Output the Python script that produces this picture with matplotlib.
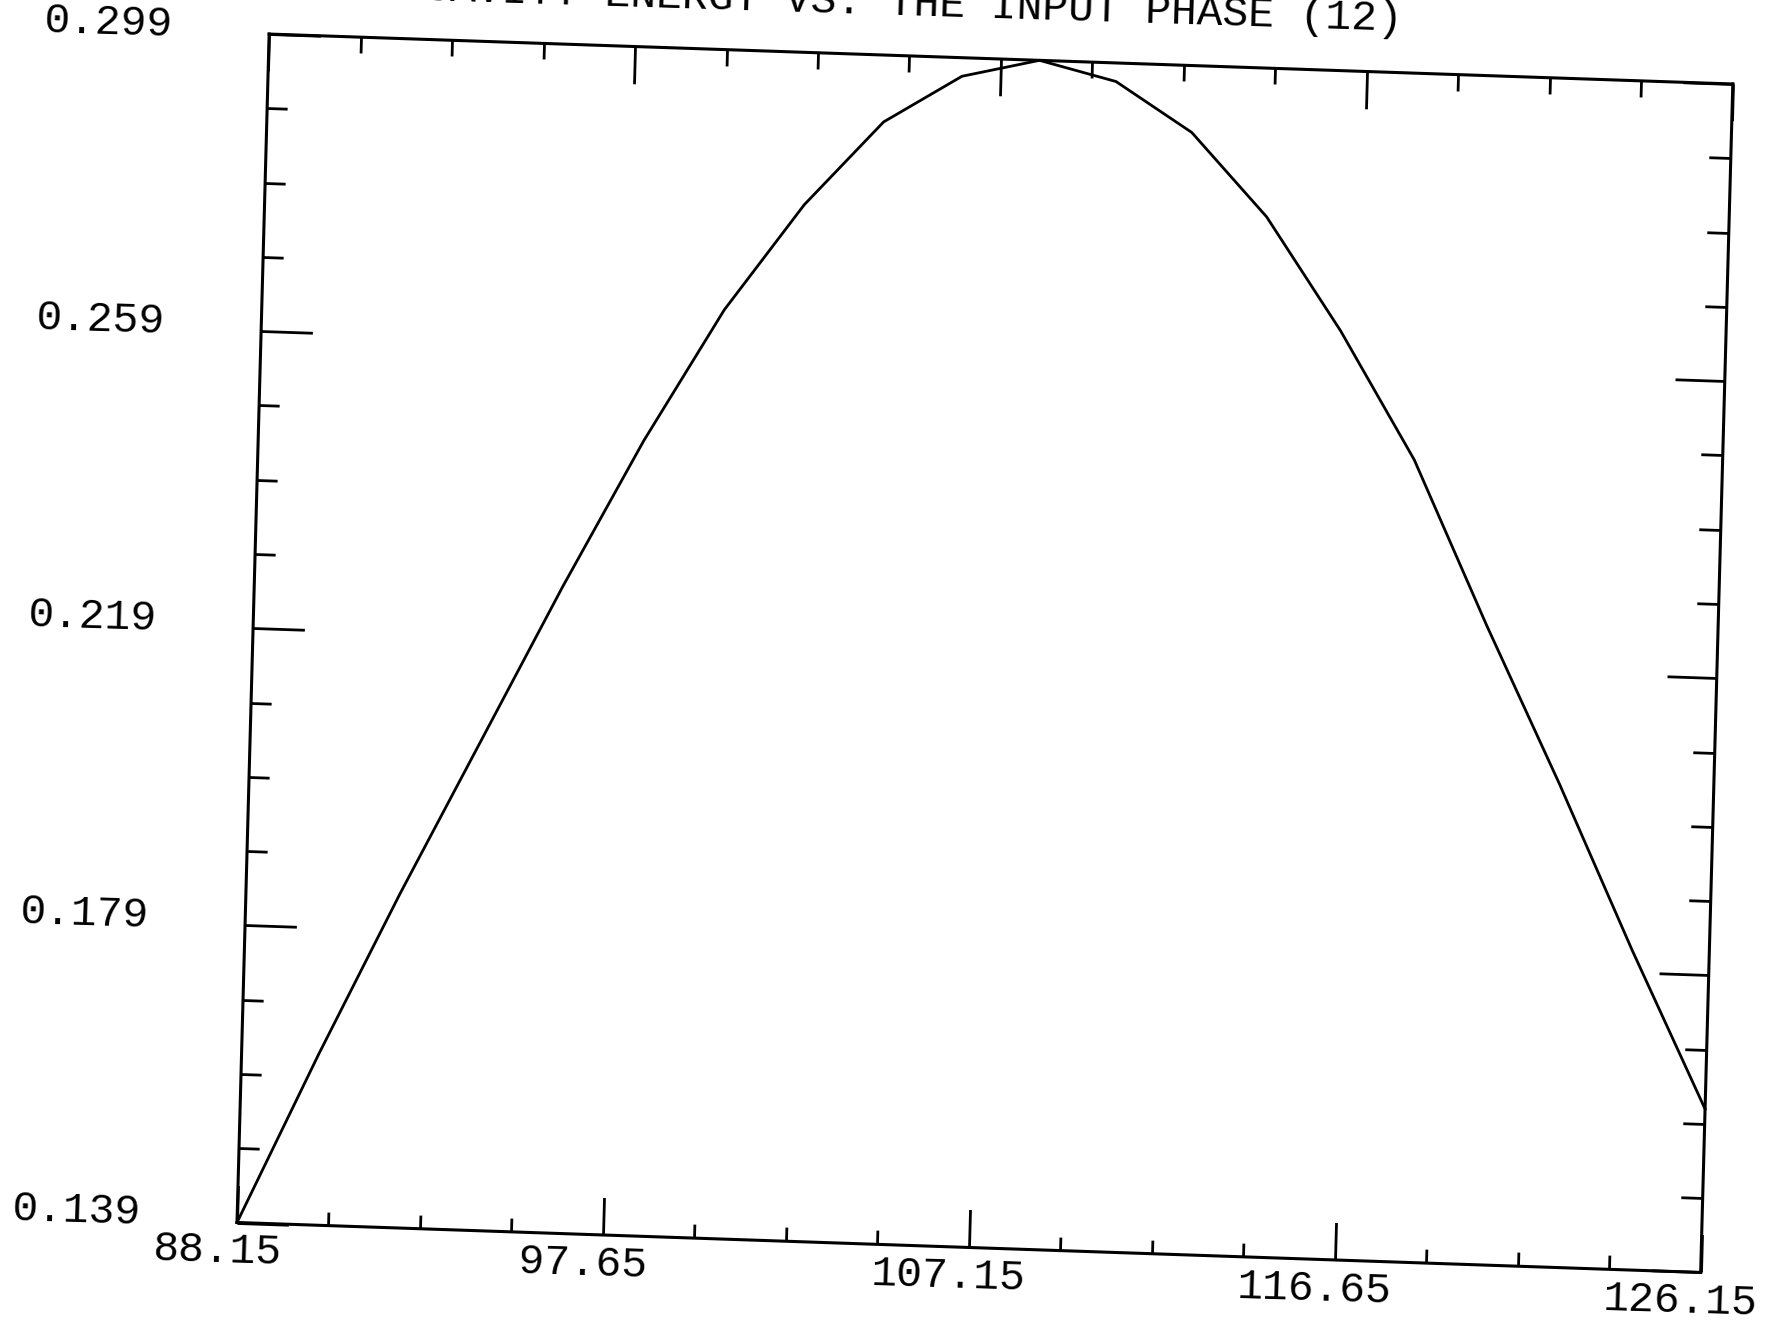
import numpy as np
import matplotlib
matplotlib.use("Agg")
import matplotlib.pyplot as plt
from matplotlib.transforms import Affine2D
from mpl_toolkits.axisartist import floating_axes
from mpl_toolkits.axisartist.grid_finder import FixedLocator

# cavity energy, one point every 2 degrees
phase = [88.15, 90.15, 92.15, 94.15, 96.15, 98.15, 100.15, 102.15, 104.15, 106.15,
         108.15, 110.15, 112.15, 114.15, 116.15, 118.15, 120.15, 122.15, 124.15, 126.15]
energy = [0.139, 0.162, 0.184, 0.205, 0.226, 0.246, 0.264, 0.2785, 0.290, 0.2965,
          0.299, 0.2965, 0.290, 0.279, 0.264, 0.247, 0.225, 0.204, 0.182, 0.161]

x_major = [88.15, 97.65, 107.15, 116.65, 126.15]
x_minor = [90.525, 92.9, 95.275, 100.025, 102.4, 104.775,
           109.525, 111.9, 114.275, 119.025, 121.4, 123.775]
x_labels = ["88.15", "97.65", "107.15", "116.65", "126.15"]

y_major = [0.139, 0.179, 0.219, 0.259, 0.299]
y_minor = [0.149, 0.159, 0.169, 0.189, 0.199, 0.209,
           0.229, 0.239, 0.249, 0.269, 0.279, 0.289]
y_labels = ["0.139", "0.179", "0.219", "0.259", "0.299"]

title = "CAVITY ENERGY VS. THE INPUT PHASE (12)"

W, H = 1775, 1325
xlo, xhi = x_major[0], x_major[-1]
ylo, yhi = y_major[0], y_major[-1]

# the sheet was scanned a bit crooked: map data -> page pixels with a skewed frame
to_unit = Affine2D().translate(-xlo, -ylo).scale(1 / (xhi - xlo), 1 / (yhi - ylo))
to_page = Affine2D(np.array([[1463.65, 32.15, 237.0],
                             [-49.95, 1188.45, 102.5],
                             [0.0, 0.0, 1.0]]))
tr = to_unit + to_page

font = dict(family=["Liberation Mono", "DejaVu Sans Mono"], fontsize=31, color="black")
tilt = -1.8

fig = plt.figure(figsize=(W / 100, H / 100), dpi=100)
fig.patch.set_facecolor("white")


def frame(xticks, yticks, sizes, draw_line):
    gh = floating_axes.GridHelperCurveLinear(
        tr, extremes=(xlo, xhi, ylo, yhi),
        grid_locator1=FixedLocator(xticks),
        grid_locator2=FixedLocator(yticks))
    ax = fig.add_axes([0, 0, 1, 1], axes_class=floating_axes.FloatingAxes, grid_helper=gh)
    ax.set_xlim(0, W)
    ax.set_ylim(0, H)
    for side in ["left", "right", "top", "bottom"]:
        a = ax.axis[side]
        a.major_ticklabels.set_visible(False)
        a.minor_ticklabels.set_visible(False)
        a.label.set_visible(False)
        a.major_ticks.set_ticksize(sizes[side])
        a.major_ticks.set_markeredgewidth(2.0)
        a.line.set_linewidth(2.2)
        a.line.set_visible(draw_line)
    return ax


ax = frame(x_major, y_major, {"left": 37, "right": 36, "bottom": 27, "top": 26.5}, True)
ax_minor = frame(x_minor, y_minor, {"left": 14.5, "right": 16, "bottom": 10, "top": 11.5}, False)
ax_minor.patch.set_visible(False)

aux = ax.get_aux_axes(tr)
aux.plot(phase, energy, color="black", lw=2.0, clip_on=False, solid_joinstyle="miter")

for xv, s in zip(x_major, x_labels):
    aux.annotate(s, xy=(xv, ylo), xytext=(-20, -29), textcoords="offset pixels",
                 ha="center", va="center", rotation=tilt, annotation_clip=False, **font)
for yv, s in zip(y_major, y_labels):
    aux.annotate(s, xy=(xlo, yv), xytext=(-96, 11), textcoords="offset pixels",
                 ha="right", va="center", rotation=tilt, annotation_clip=False, **font)

fig.text(913 / W, 1 - 15 / H, title, ha="center", va="baseline",
         rotation=tilt, rotation_mode="anchor", **font)

fig.savefig("out.png", dpi=100, facecolor="white")
